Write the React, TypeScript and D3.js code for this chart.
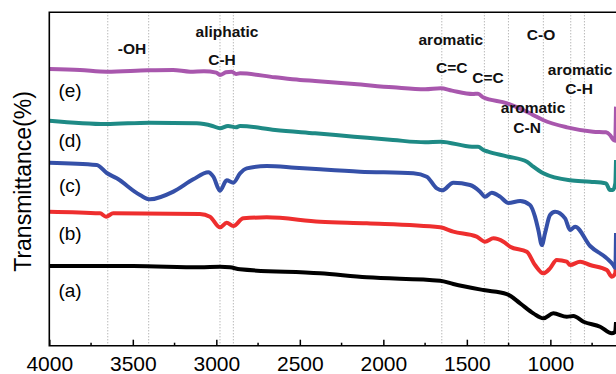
import * as d3 from "d3";
import { useEffect, useRef } from "react";

// wavenumber (cm-1), transmittance (arbitrary, offset per curve)
const curveA: [number, number][] = [
	[4000, 23.9], [3497, 23.9], [3098, 23.5], [2978, 23.7], [2918, 23.5], [2858, 22.9],
	[2379, 21.7], [2099, 20.5], [1660, 19.5], [1581, 18.5], [1401, 16.7], [1261, 15.5],
	[1181, 12.7], [1102, 9.7], [1042, 8.2], [982, 9.7], [902, 8.7], [862, 8.9],
	[802, 7.2], [702, 5.7], [632, 3.7], [612, 4.2], [607, 7.1],
];
const curveB: [number, number][] = [
	[4000, 40.2], [3696, 39.7], [3660, 38.7], [3617, 39.7], [3098, 39.5], [3038, 38.7],
	[2978, 35.5], [2938, 36.9], [2898, 35.9], [2838, 38.2], [2698, 38.5], [2379, 37.2],
	[2099, 36.7], [1660, 35.5], [1581, 34.2], [1441, 32.7], [1391, 31.2], [1341, 32.2],
	[1281, 31.2], [1241, 29.7], [1141, 28.2], [1092, 24.2], [1042, 21.7], [1002, 23.2],
	[962, 25.7], [902, 25.2], [882, 24.2], [822, 25.2], [762, 24.2], [662, 22.7],
	[632, 20.7], [612, 21.7], [607, 25.1],
];
const curveC: [number, number][] = [
	[4000, 54.9], [3716, 54.2], [3656, 51.8], [3596, 50.2], [3457, 45.2], [3397, 43.9],
	[3257, 46.2], [3138, 49.9], [3048, 52.0], [3018, 50.7], [2978, 46.5], [2938, 49.6],
	[2898, 48.9], [2858, 51.7], [2818, 53.2], [2698, 53.9], [2529, 53.4], [2379, 52.9],
	[2140, 52.2], [1820, 51.7], [1740, 50.7], [1680, 47.2], [1647, 46.6], [1581, 48.9],
	[1481, 48.2], [1421, 46.2], [1391, 44.7], [1351, 45.9], [1301, 44.7], [1251, 42.8],
	[1181, 43.4], [1122, 42.2], [1092, 38.7], [1072, 34.7], [1051, 30.2], [1032, 33.7],
	[1002, 39.2], [972, 40.2], [912, 38.2], [882, 34.7], [852, 35.7], [762, 29.9],
	[662, 26.2], [623, 24.2], [611, 23.3], [607, 33.8],
];
const curveD: [number, number][] = [
	[4000, 67.5], [3660, 66.5], [3400, 66.9], [3117, 66.7], [3023, 65.9], [2978, 65.2],
	[2930, 65.9], [2882, 65.5], [2858, 65.9], [2648, 64.7], [2409, 63.7], [2175, 62.7],
	[1942, 61.7], [1750, 61.0], [1657, 61.2], [1469, 59.7], [1433, 59.7], [1401, 58.7],
	[1373, 58.2], [1261, 56.8], [1140, 55.2], [1102, 53.7], [1042, 51.7], [882, 49.6],
	[762, 49.2], [667, 48.7], [643, 46.7], [625, 46.7], [611, 48.7], [607, 55.7],
];
const curveE: [number, number][] = [
	[4000, 83.0], [3816, 82.7], [3656, 82.2], [3409, 82.6], [3259, 82.7], [3157, 82.2],
	[3074, 82.3], [3000, 81.9], [2978, 81.2], [2942, 82.0], [2908, 82.2], [2882, 81.5],
	[2858, 81.7], [2649, 80.5], [2499, 79.7], [2409, 79.4], [2175, 78.5], [1942, 77.5],
	[1750, 76.9], [1657, 77.2], [1589, 76.5], [1463, 75.5], [1433, 75.6], [1403, 74.5],
	[1259, 72.7], [1122, 69.7], [1092, 68.9], [1044, 67.7], [900, 65.5], [744, 64.2],
	[667, 64.0], [643, 63.2], [622, 61.7], [612, 61.5], [607, 71.7],
];

const seriesNames = ["(a)", "(b)", "(c)", "(d)", "(e)"];
const seriesData = [curveA, curveB, curveC, curveD, curveE];
const seriesColors = ["#000000", "#ee2e2e", "#3550a8", "#1e8a85", "#a857ad"];

// peak markers (cm-1)
const peakLines = [3650, 3405, 2978, 2898, 1650, 1395, 1251, 1042, 878, 796];

const majorTicks = [4000, 3500, 3000, 2500, 2000, 1500, 1000];
const minorTicks = [3750, 3250, 2750, 2250, 1750, 1250, 750];

const App = () => {
	const svgRef = useRef<SVGSVGElement>(null);

	useEffect(() => {
		if (!svgRef.current) return;

		const width = 616;
		const height = 374;
		const left = 49.3;
		const top = 12.3;
		const bottom = 345.7;

		const svg = d3.select(svgRef.current).attr("width", width).attr("height", height);
		svg.selectAll("*").remove();

		const x = d3.scaleLinear().domain([4000, 607]).range([left, width]);
		const y = d3.scaleLinear().domain([0, 100]).range([bottom, top]);

		// pointillés des pics
		svg
			.append("g")
			.selectAll("line")
			.data(peakLines)
			.enter()
			.append("line")
			.attr("x1", (d) => x(d))
			.attr("x2", (d) => x(d))
			.attr("y1", top)
			.attr("y2", bottom)
			.attr("stroke", "#9a9a9a")
			.attr("stroke-width", 1)
			.attr("stroke-dasharray", "1,2");

		// courbes
		const line = d3
			.line<[number, number]>()
			.x((d) => x(d[0]))
			.y((d) => y(d[1]))
			.curve(d3.curveMonotoneX);

		seriesData.forEach((data, i) => {
			svg
				.append("path")
				.attr("d", line(data))
				.attr("fill", "none")
				.attr("stroke", seriesColors[i])
				.attr("stroke-width", 4)
				.attr("stroke-linejoin", "round");
		});

		// cadre
		svg
			.append("path")
			.attr("d", `M${width},${top}H${left}V${bottom}H${width}`)
			.attr("fill", "none")
			.attr("stroke", "#000")
			.attr("stroke-width", 1.6);

		// axe x
		const xAxis = svg
			.append("g")
			.attr("transform", `translate(0,${bottom})`)
			.call(
				d3
					.axisBottom(x)
					.tickValues(majorTicks)
					.tickSize(-6)
					.tickPadding(10)
					.tickFormat(d3.format("d"))
			);
		xAxis.select(".domain").remove();
		xAxis.selectAll(".tick line").attr("stroke-width", 1.5);
		xAxis
			.selectAll(".tick text")
			.attr("font-family", "Liberation Sans, Arial, sans-serif")
			.attr("font-size", "21px")
			.attr("fill", "#000");

		svg
			.append("g")
			.selectAll("line")
			.data(minorTicks)
			.enter()
			.append("line")
			.attr("x1", (d) => x(d))
			.attr("x2", (d) => x(d))
			.attr("y1", bottom)
			.attr("y2", bottom - 3)
			.attr("stroke", "#000")
			.attr("stroke-width", 1.5);

		// titre de l'axe y
		svg
			.append("text")
			.attr("transform", `translate(31,181.5) rotate(-90)`)
			.attr("text-anchor", "middle")
			.attr("font-family", "Liberation Sans, Arial, sans-serif")
			.attr("font-size", "23px")
			.text("Transmittance(%)");

		// étiquettes des courbes
		const labelY = [296.6, 239.6, 191.6, 146.6, 96.6];
		seriesNames.forEach((name, i) => {
			svg
				.append("text")
				.attr("x", 70)
				.attr("y", labelY[i])
				.attr("text-anchor", "middle")
				.attr("font-family", "Liberation Sans, Arial, sans-serif")
				.attr("font-size", "19px")
				.text(name);
		});

		// annotations des bandes
		const notes: [string, number, number][] = [
			["-OH", 3505, 87.5],
			["aliphatic", 2936, 92.7],
			["C-H", 2966, 84.2],
			["aromatic", 1596, 90.2],
			["C=C", 1590, 81.9],
			["C=C", 1373, 78.7],
			["C-O", 1056, 91.7],
			["aromatic", 822, 81.2],
			["C-H", 828, 75.5],
			["aromatic", 1104, 69.9],
			["C-N", 1139, 63.7],
		];
		notes.forEach(([t, wn, v]) => {
			svg
				.append("text")
				.attr("x", x(wn))
				.attr("y", y(v))
				.attr("text-anchor", "middle")
				.attr("font-family", "Liberation Sans, Arial, sans-serif")
				.attr("font-weight", "bold")
				.attr("font-size", "15.5px")
				.attr("fill", "#111")
				.text(t);
		});
	}, []);

	return (
		<svg
			ref={svgRef}
			style={{ position: "absolute", left: 0, top: 0, background: "#fff" }}
		></svg>
	);
};

export default App;
